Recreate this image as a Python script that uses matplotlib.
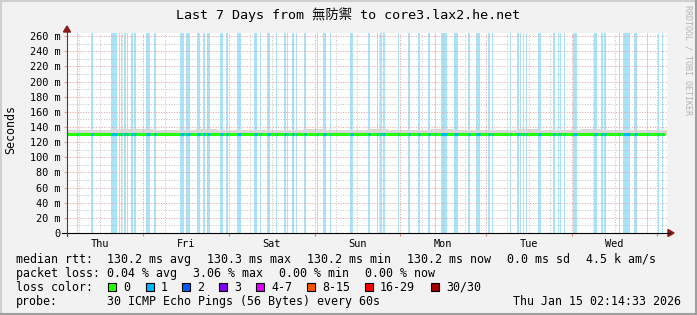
import matplotlib
matplotlib.use("Agg")
import matplotlib.pyplot as plt
from matplotlib.lines import Line2D
from matplotlib.patches import Rectangle, Polygon

W, H = 697, 315

# data (x axis: hours since left edge of graph)
clock_at_start = 2.67  # local clock hour at left edge
span_hours = 168
days = ["Thu", "Fri", "Sat", "Sun", "Mon", "Tue", "Wed"]
median_ms = 130.2
data_end_h = 167.4

loss_start_h = [2.8, 6.72, 12.32, 13.16, 14.56, 15.12, 15.96, 16.8, 17.92, 18.76,
                22.12, 24.36, 31.64, 33.32, 36.4, 38.08, 39.2, 42.84, 44.52, 47.6,
                52.36, 54.04, 56.0, 58.52, 60.76, 61.6, 63.0, 64.12, 66.36, 70.0,
                71.68, 73.64, 79.24, 84.28, 86.8, 87.64, 88.48, 92.68, 95.48, 98.28,
                101.08, 103.04, 104.72, 108.36, 112.28, 114.52, 117.88, 119.0, 124.04, 126.0,
                126.84, 127.68, 128.52, 131.88, 136.08, 137.48, 138.04, 139.16, 141.68, 147.56,
                149.52, 150.36, 154.56, 155.68, 158.76, 162.4, 165.48, 166.6]
loss_len_h = [0.28, 0.56, 0.84, 0.84, 0.28, 0.28, 0.56, 0.28, 0.56, 0.56,
              1.12, 0.56, 1.12, 1.12, 0.84, 0.56, 0.84, 0.84, 0.56, 1.12,
              0.84, 0.28, 0.84, 0.28, 0.56, 0.28, 0.56, 0.28, 0.56, 0.28,
              0.84, 0.28, 0.84, 0.56, 0.28, 0.56, 0.56, 0.28, 0.56, 0.56,
              0.56, 0.28, 1.68, 1.12, 0.56, 1.12, 0.56, 0.28, 0.28, 0.56,
              0.28, 0.28, 0.28, 0.84, 0.56, 0.28, 0.28, 0.28, 1.12, 0.84,
              0.56, 0.56, 0.28, 1.96, 0.84, 0.28, 0.28, 0.28]

# smoke upper edge every 6 hours (ms)
smoke_top = [136.5, 135.8, 136.9, 137.2, 136.0, 135.6, 137.8, 136.4, 136.1, 135.9,
             136.7, 137.0, 135.7, 136.3, 136.8, 135.5, 136.2, 137.4, 136.6, 135.8,
             136.0, 136.9, 135.6, 136.4, 137.1, 136.2, 135.9, 136.5]
smoke_bottom = 129.2

loss_labels = ["0", "1", "2", "3", "4-7", "8-15", "16-29", "30/30"]
loss_colors = ["#26ff00", "#00b8ff", "#0059ff", "#7e00ff", "#dd00ff",
               "#ff5500", "#ff0000", "#a10000"]

rtt_items = ["130.2 ms avg", "130.3 ms max", "130.2 ms min", "130.2 ms now",
             "0.0 ms sd", "4.5 k am/s"]
loss_items = ["0.04 % avg", "3.06 % max", "0.00 % min", "0.00 % now"]
probe_text = "30 ICMP Echo Pings (56 Bytes) every 60s"
stamp = "Thu Jan 15 02:14:33 2026"
title = "Last 7 Days from 無防禦 to core3.lax2.he.net"

MONO = ["DejaVu Sans Mono", "Noto Sans CJK TC"]
plt.rcParams["font.family"] = MONO


def fx(x):
    return x / W


def fy(y):
    return 1 - y / H


fig = plt.figure(figsize=(W / 100, H / 100), dpi=100)
fig.patch.set_facecolor("#f2f2f2")

ax = fig.add_axes([fx(67), fy(233), 600 / W, 200 / H])
ax.set_facecolor("white")
ax.set_xlim(0, span_hours)
ax.set_ylim(0, 264.2)
for s in ax.spines.values():
    s.set_visible(False)

# loss background bars
for s, l in zip(loss_start_h, loss_len_h):
    ax.axvspan(s, s + l, color="#a8e3f8", lw=0, zorder=1, antialiased=False)

# smoke
xs = [6 * i for i in range(len(smoke_top) + 1)]
ax.fill_between(xs, smoke_bottom, smoke_top + [smoke_top[-1]], step="post",
                color="#d8d8d8", lw=0, zorder=1.5)

# grid
for v in range(10, 264, 10):
    major = v % 20 == 0
    ax.axhline(v, color="#e6a0a0" if major else "#c4c4c4", lw=0.72,
               ls=(0, (1, 1.6)), zorder=2)
first_mid = 24 - clock_at_start
for k in range(28):
    t = (6 - clock_at_start % 6) + 6 * k
    if t > span_hours:
        break
    is_mid = abs((t - first_mid) % 24) < 0.01
    ax.axvline(t, color="#e6a0a0" if is_mid else "#c4c4c4", lw=0.72,
               ls=(0, (1, 1.6)), zorder=2)

# median line coloured by loss
ax.hlines(median_ms, 0, data_end_h, color=loss_colors[0], lw=2.2, zorder=3)
for s, l in zip(loss_start_h, loss_len_h):
    ax.hlines(median_ms, s, s + l, color=loss_colors[1], lw=2.2, zorder=3.1)

# ticks
yt = list(range(0, 261, 20))
ax.set_yticks(yt)
ax.set_yticklabels([("%d m" % v) if v else "0" for v in yt], fontsize=7.4)
ax.tick_params(axis="y", length=2.2, color="#e6a0a0", pad=2.2)
mids = [first_mid + 24 * k for k in range(7)]
ax.set_xticks(mids)
ax.set_xticklabels([""] * len(mids))
ax.tick_params(axis="x", which="major", length=2.5, color="#e08080")
noons = [first_mid - 12 + 24 * k for k in range(7)]
ax.set_xticks(noons, minor=True)
ax.set_xticklabels(days, minor=True, fontsize=7.4)
ax.tick_params(axis="x", which="minor", length=0, pad=4.0)

# axes lines and arrows
fig.add_artist(Line2D([fx(62), fx(670)], [fy(233), fy(233)], color="#000000", lw=0.8))
fig.add_artist(Line2D([fx(67), fx(67)], [fy(236), fy(31)], color="#404040", lw=0.8))
fig.add_artist(Polygon([[fx(668), fy(229.5)], [fx(668), fy(236.5)], [fx(674), fy(233)]],
                       closed=True, color="#8b1a1a", transform=fig.transFigure))
fig.add_artist(Polygon([[fx(63.5), fy(32)], [fx(70.5), fy(32)], [fx(67), fy(26)]],
                       closed=True, color="#8b1a1a", transform=fig.transFigure))

# title and labels
fig.text(fx(348.5), fy(19), title, ha="center", va="baseline", fontsize=9.6,
         family=MONO)
fig.text(fx(11), fy(130), "Seconds", rotation=90, ha="center", va="center",
         fontsize=8.4)
fig.text(fx(688), fy(60), "RRDTOOL / TOBI OETIKER", rotation=270, ha="center",
         va="center", fontsize=6, color="#b4b4b4")

# legend
fs = 8.4
fig.text(fx(16), fy(263), "median rtt:", fontsize=fs, va="baseline")
for x, t in zip([107, 207, 307, 407, 507, 586], rtt_items):
    fig.text(fx(x), fy(263), t, fontsize=fs, va="baseline")
fig.text(fx(16), fy(277), "packet loss:", fontsize=fs, va="baseline")
for x, t in zip([107, 193, 279, 365], loss_items):
    fig.text(fx(x), fy(277), t, fontsize=fs, va="baseline")
fig.text(fx(16), fy(291), "loss color:", fontsize=fs, va="baseline")
sq_x = [108, 146, 182, 219, 256, 307, 365, 431]
for x, lab, c in zip(sq_x, loss_labels, loss_colors):
    fig.add_artist(Rectangle((fx(x), fy(291)), 8 / W, 8.5 / H, facecolor=c,
                             edgecolor="black", lw=0.8, transform=fig.transFigure))
    fig.text(fx(x + 15), fy(291), lab, fontsize=fs, va="baseline")
fig.text(fx(16), fy(305), "probe:", fontsize=fs, va="baseline")
fig.text(fx(107), fy(305), probe_text, fontsize=fs, va="baseline")
fig.text(fx(681), fy(305), stamp, fontsize=fs, va="baseline", ha="right")

# frame
fig.add_artist(Line2D([0, 1], [fy(1), fy(1)], color="#cfcfcf", lw=1.5))
fig.add_artist(Line2D([fx(1), fx(1)], [0, 1], color="#cfcfcf", lw=1.5))
fig.add_artist(Line2D([0, 1], [fy(314), fy(314)], color="#9e9e9e", lw=1.5))
fig.add_artist(Line2D([fx(696), fx(696)], [0, 1], color="#9e9e9e", lw=1.5))

fig.savefig("out.png", dpi=100, facecolor=fig.get_facecolor())
